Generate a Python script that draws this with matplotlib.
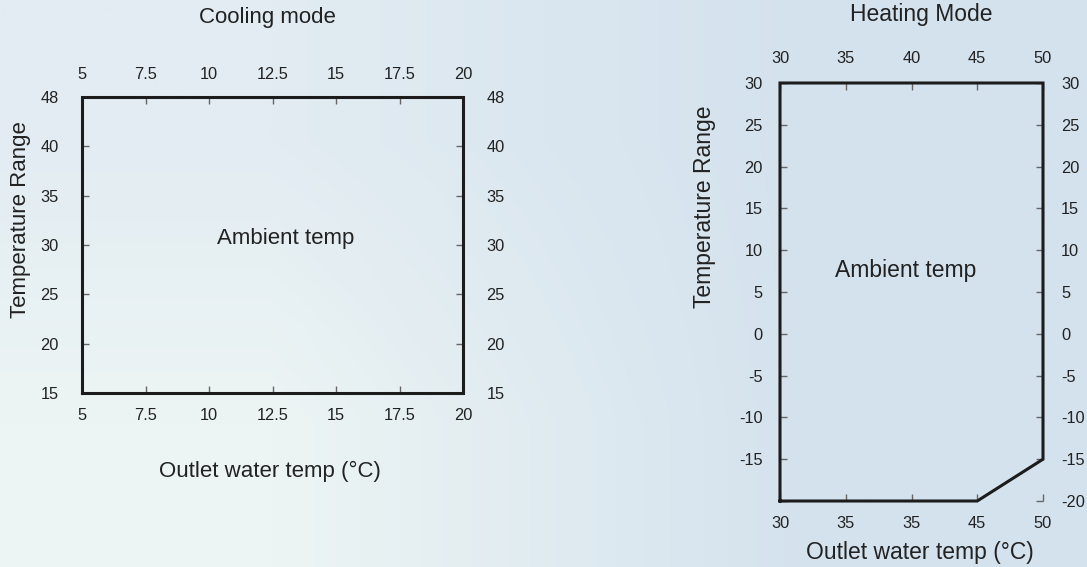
import numpy as np
import matplotlib
matplotlib.use("Agg")
import matplotlib.pyplot as plt

plt.rcParams['font.family'] = ['Liberation Sans', 'DejaVu Sans']

# cooling mode data
cool_x_ticks = [5, 7.5, 10, 12.5, 15, 17.5, 20]
cool_x_labels = ['5', '7.5', '10', '12.5', '15', '17.5', '20']
cool_y_ticks = [15, 20, 25, 30, 35, 40, 45]
cool_y_labels = ['15', '20', '25', '30', '35', '40', '48']
cool_env_x = [5, 5, 20, 20, 5]
cool_env_y = [15, 45, 45, 15, 15]

# heating mode data
heat_x_ticks = [30, 35, 40, 45, 50]
heat_top_labels = ['30', '35', '40', '45', '50']
heat_bottom_labels = ['30', '35', '35', '45', '50']
heat_y_ticks = [-20, -15, -10, -5, 0, 5, 10, 15, 20, 25, 30]
heat_y_labels = ['', '-15', '-10', '-5', '0', '5', '10', '15', '20', '25', '30']
heat_y_labels_right = ['-20', '-15', '-10', '-5', '0', '5', '10', '15', '20', '25', '30']
heat_env_x = [30, 30, 50, 50, 45, 30]
heat_env_y = [-20, 30, 30, -15, -20, -20]

W, H = 1087, 567
fig = plt.figure(figsize=(W / 100, H / 100), dpi=100)

# background gradient
bg = fig.add_axes([0, 0, 1, 1], zorder=-10)
corners = np.array([[[226, 236, 242], [212, 226, 238]],
                    [[237, 245, 244], [212, 226, 238]]]) / 255.0
bg.imshow(corners, extent=[0, 1, 0, 1], interpolation='bilinear', aspect='auto')
bg.axis('off')

txt = '#222222'
tick_col = '#666666'


def px_box(x0, y0, x1, y1):
    return [x0 / W, 1 - y1 / H, (x1 - x0) / W, (y1 - y0) / H]


# ---- Cooling mode ----
ax1 = fig.add_axes(px_box(82, 97, 463, 393))
ax1.set_facecolor('none')
for s in ax1.spines.values():
    s.set_visible(False)
ax1.plot(cool_env_x, cool_env_y, color='#1c1c1c', lw=2.2, clip_on=False,
         solid_joinstyle='miter')
ax1.set_xlim(5, 20)
ax1.set_ylim(15, 45)
ax1.set_xticks(cool_x_ticks)
ax1.set_xticklabels(cool_x_labels)
ax1.set_yticks(cool_y_ticks)
ax1.set_yticklabels(cool_y_labels)
ax1.tick_params(direction='in', length=5, width=1, color=tick_col,
                labelcolor=txt, labelsize=11.8,
                top=True, right=True, labeltop=True, labelright=True)
ax1.tick_params(axis='x', pad=10.5)
ax1.tick_params(axis='y', pad=17)
ax1.text(13.03, 30.1, 'Ambient temp', ha='center', va='baseline',
         fontsize=16, color=txt)
fig.text(267 / W, 1 - 17 / H, 'Cooling mode', ha='center', va='center',
         fontsize=16, color=txt)
fig.text(270 / W, 1 - 471 / H, 'Outlet water temp (°C)', ha='center',
         va='center', fontsize=16, color=txt)
fig.text(21 / W, 1 - 220 / H, 'Temperature Range', ha='center', va='center',
         rotation=90, fontsize=16, color=txt)

# ---- Heating mode ----
ax2 = fig.add_axes(px_box(780, 83, 1043, 501))
ax2.set_facecolor('none')
for s in ax2.spines.values():
    s.set_visible(False)
ax2.plot(heat_env_x, heat_env_y, color='#1c1c1c', lw=2.2, clip_on=False,
         solid_joinstyle='miter')
ax2.set_xlim(30, 50)
ax2.set_ylim(-20, 30)
ax2.set_xticks(heat_x_ticks)
ax2.set_xticklabels(heat_bottom_labels)
ax2.set_yticks(heat_y_ticks)
ax2.set_yticklabels(heat_y_labels)
ax2.tick_params(direction='in', length=5, width=1, color=tick_col,
                labelcolor=txt, labelsize=11.8,
                top=True, right=True, labeltop=False, labelright=False)
ax2.tick_params(axis='x', pad=11)
ax2.tick_params(axis='y', pad=12.5)

# top and right labels differ from bottom/left ones
sec_top = ax2.secondary_xaxis('top')
sec_top.set_xticks(heat_x_ticks)
sec_top.set_xticklabels(heat_top_labels)
sec_top.tick_params(length=0, labelcolor=txt, labelsize=11.8, pad=12)
sec_top.spines['top'].set_visible(False)
sec_right = ax2.secondary_yaxis('right')
sec_right.set_yticks(heat_y_ticks)
sec_right.set_yticklabels(heat_y_labels_right)
sec_right.tick_params(length=0, labelcolor=txt, labelsize=11.8, pad=13)
sec_right.spines['right'].set_visible(False)

ax2.text(39.55, 6.83, 'Ambient temp', ha='center', va='baseline',
         fontsize=16.5, color=txt)
fig.text(921 / W, 1 - 15 / H, 'Heating Mode', ha='center', va='center',
         fontsize=16.5, color=txt)
fig.text(920 / W, 1 - 553 / H, 'Outlet water temp (°C)', ha='center',
         va='center', fontsize=16.5, color=txt)
fig.text(705 / W, 1 - 207 / H, 'Temperature Range', ha='center', va='center',
         rotation=90, fontsize=16.5, color=txt)

fig.savefig('out.png', dpi=100)
